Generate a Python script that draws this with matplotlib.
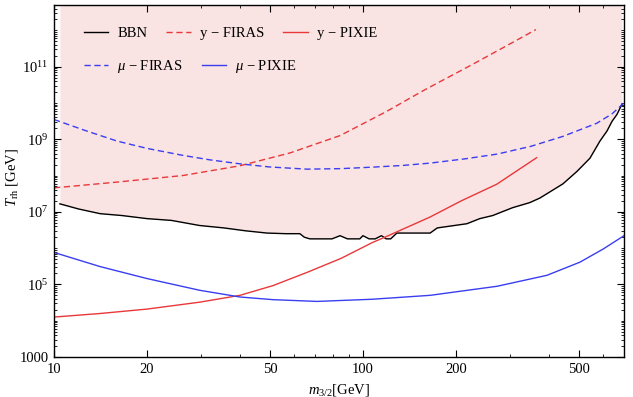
import matplotlib
matplotlib.use("Agg")
import matplotlib.pyplot as plt
import numpy as np
from matplotlib.ticker import FixedLocator, FuncFormatter
from matplotlib.lines import Line2D

plt.rcParams['font.family'] = ['Liberation Serif', 'DejaVu Serif']
plt.rcParams['mathtext.fontset'] = 'custom'
plt.rcParams['mathtext.rm'] = 'Liberation Serif'
plt.rcParams['mathtext.it'] = 'Liberation Serif:italic'
plt.rcParams['mathtext.bf'] = 'Liberation Serif:bold'

# BBN bound (jagged)
bbn_m = [10.45, 12.0, 14.1, 16.6, 20.0, 24.0, 29.6, 35.5, 41.7, 48.9, 56.2, 62.5,
         64.6, 67.3, 79.4, 84.3, 89.1, 97.7, 100.0, 104.7, 109.6, 114.8, 118.9,
         123.0, 128.8, 165.0, 174.0, 217.0, 239.0, 263.0, 305.0, 347.0, 374.0,
         444.0, 493.0, 543.0, 585.0, 617.0, 640.0, 664.0, 689.0]
bbn_T = [1.66e7, 1.2e7, 8.9e6, 7.9e6, 6.5e6, 5.8e6, 4.2e6, 3.6e6, 3.0e6, 2.6e6, 2.5e6, 2.5e6,
         2.0e6, 1.8e6, 1.8e6, 2.2e6, 1.8e6, 1.8e6, 2.2e6, 1.8e6, 1.8e6, 2.2e6, 1.8e6,
         1.8e6, 2.6e6, 2.6e6, 3.6e6, 4.7e6, 6.5e6, 7.9e6, 1.3e7, 1.8e7, 2.4e7,
         5.9e7, 1.3e8, 3.0e8, 8.9e8, 1.7e9, 3.1e9, 4.8e9, 9.1e9]

# y-distortion, FIRAS (dashed red)
yfiras_m = [10.0, 16.0, 26.1, 40.0, 58.1, 84.3, 118.9, 158.5, 223.9, 281.8, 363.0]
yfiras_T = [4.57e7, 6.6e7, 1.0e8, 1.86e8, 4.2e8, 1.26e9, 5.75e9, 2.3e10, 1.1e11, 3.2e11, 1.05e12]

# y-distortion, PIXIE (solid red)
ypixie_m = [10.0, 14.1, 20.0, 29.6, 40.0, 51.2, 65.9, 85.1, 107.0, 117.8, 165.0, 208.0, 271.0, 365.0]
ypixie_T = [1.26e4, 1.58e4, 2.09e4, 3.24e4, 5.0e4, 9.3e4, 2.14e5, 5.25e5, 1.41e6, 2.0e6,
            7.2e6, 2.0e7, 5.75e7, 3.1e8]

# mu-distortion, FIRAS (dashed blue)
mufiras_m = [10.0, 12.6, 16.0, 20.0, 26.1, 32.0, 40.0, 50.0, 65.9, 85.0, 107.0, 135.0,
             165.0, 215.0, 272.0, 350.0, 444.0, 571.0, 640.0, 700.0]
mufiras_T = [3.5e9, 1.75e9, 8.9e8, 5.6e8, 3.6e8, 2.7e8, 2.1e8, 1.72e8, 1.5e8, 1.55e8,
             1.7e8, 1.9e8, 2.2e8, 2.9e8, 3.9e8, 6.4e8, 1.2e9, 2.75e9, 5.0e9, 1.0e10]

# mu-distortion, PIXIE (solid blue)
mupixie_m = [10.0, 14.1, 20.0, 29.6, 40.0, 51.2, 71.0, 107.0, 165.0, 272.0, 394.0, 504.0, 600.0, 700.0]
mupixie_T = [7.6e5, 3.1e5, 1.45e5, 6.9e4, 4.5e4, 3.8e4, 3.4e4, 3.9e4, 5.0e4, 8.9e4,
             1.78e5, 4.1e5, 9.5e5, 2.2e6]

x_ticks = [10, 20, 50, 100, 200, 500]
y_ticks = [1e3, 1e5, 1e7, 1e9, 1e11]

xlim = (10, 700)
ylim = (1e3, 5e12)

red = '#e8383a'
blue = '#3a3ef0'
dash = (0, (4.5, 2.6))
fs = 10.5

fig = plt.figure(figsize=(6.33, 3.97), dpi=100)
ax = fig.add_axes([54/633, 40/397, 570/633, 352/397])

ax.fill_between(bbn_m, bbn_T, ylim[1], color='#f9e3e3', lw=0)
ax.plot(bbn_m, bbn_T, color='black', lw=1.0)
ax.plot(yfiras_m, yfiras_T, color=red, lw=1.0, ls=dash)
ax.plot(ypixie_m, ypixie_T, color=red, lw=1.0)
ax.plot(mufiras_m, mufiras_T, color=blue, lw=1.0, ls=dash)
ax.plot(mupixie_m, mupixie_T, color=blue, lw=1.0)

ax.set_xscale('log')
ax.set_yscale('log')
ax.set_xlim(*xlim)
ax.set_ylim(*ylim)

ax.xaxis.set_major_locator(FixedLocator(x_ticks))
ax.xaxis.set_major_formatter(FuncFormatter(lambda v, p: '%d' % round(v)))
xminor = [k * 10**d for d in range(1, 3) for k in range(2, 10)]
ax.xaxis.set_minor_locator(FixedLocator([v for v in xminor if v not in x_ticks]))
ax.xaxis.set_minor_formatter(FuncFormatter(lambda v, p: ''))

def ylab(v, p):
    e = int(round(np.log10(v)))
    return '1000' if e == 3 else r'$10^{%d}$' % e

ax.yaxis.set_major_locator(FixedLocator(y_ticks))
ax.yaxis.set_major_formatter(FuncFormatter(ylab))
yminor = [k * 10.0**d for d in range(3, 13) for k in range(1, 10)]
ax.yaxis.set_minor_locator(FixedLocator([v for v in yminor if v not in y_ticks]))
ax.yaxis.set_minor_formatter(FuncFormatter(lambda v, p: ''))

ax.tick_params(which='both', direction='in', top=True, right=True, labelsize=fs, pad=4)
ax.tick_params(which='major', length=5, width=0.8)
ax.tick_params(which='minor', length=2.5, width=0.6)
for s in ax.spines.values():
    s.set_linewidth(1.0)

ax.set_xlabel(r'$m_{3/2}$[GeV]', fontsize=fs, labelpad=5)
ax.set_ylabel(r'$T_{\rm rh}$ [GeV]', fontsize=fs)
ax.yaxis.set_label_coords(-0.06, 0.51)

h_bbn = Line2D([], [], color='black', lw=1.0)
h_yf = Line2D([], [], color=red, lw=1.0, ls=dash)
h_yp = Line2D([], [], color=red, lw=1.0)
h_mf = Line2D([], [], color=blue, lw=1.0, ls=dash)
h_mp = Line2D([], [], color=blue, lw=1.0)

leg_kw = dict(frameon=False, fontsize=fs, handlelength=1.7, handletextpad=0.6,
              columnspacing=1.3, borderaxespad=0, borderpad=0, loc='upper left')
leg1 = ax.legend([h_bbn, h_yf, h_yp], ['BBN', 'y \u2212 FIRAS', 'y \u2212 PIXIE'],
                 ncol=3, bbox_to_anchor=(0.052, 0.937), **leg_kw)
ax.add_artist(leg1)
ax.legend([h_mf, h_mp], ['$\\mu$ \u2212 FIRAS', '$\\mu$ \u2212 PIXIE'],
          ncol=2, bbox_to_anchor=(0.052, 0.85), **leg_kw)

fig.savefig('out.png', dpi=100)
